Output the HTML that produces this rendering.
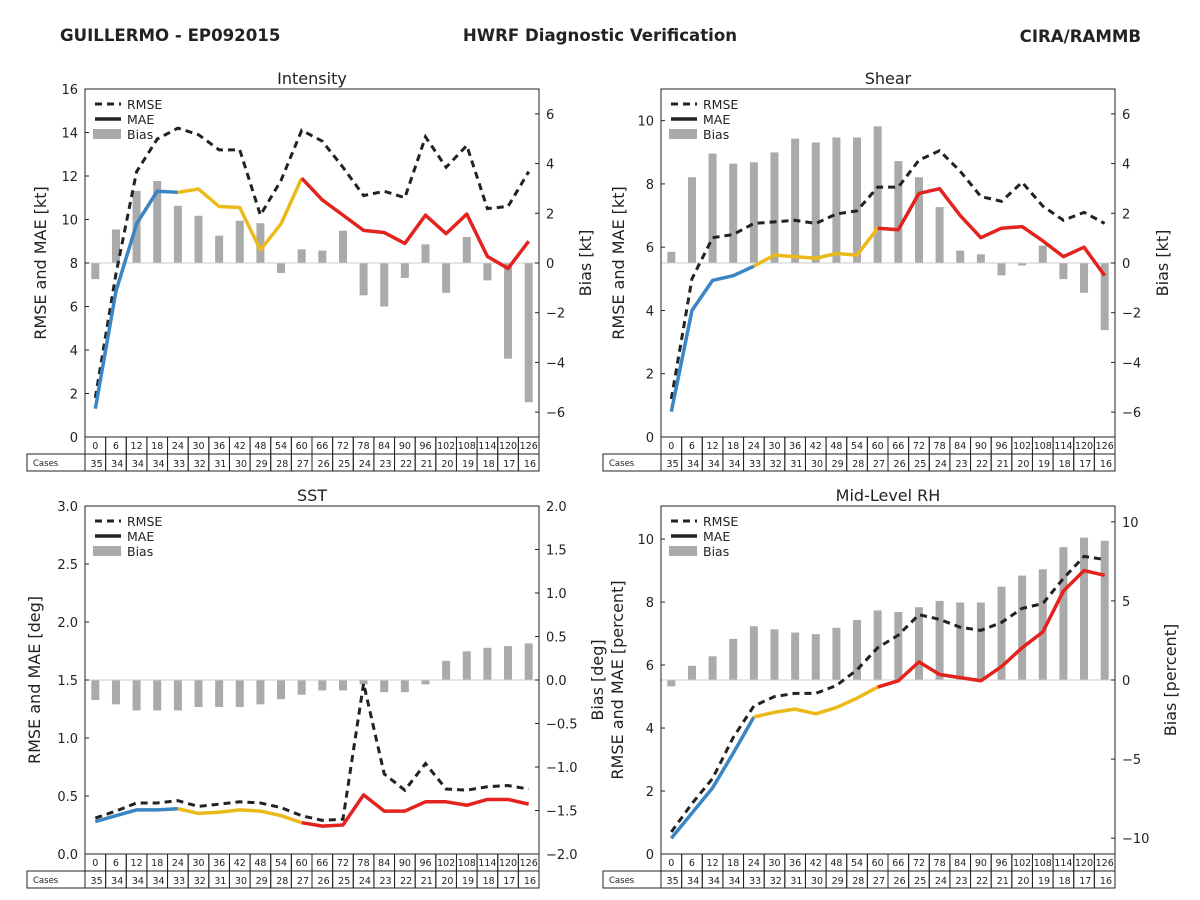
<!DOCTYPE html>
<html><head><meta charset="utf-8">
<style>
body{margin:0;background:#fff;}
svg{display:block;font-family:"DejaVu Sans","Liberation Sans",sans-serif;}
</style></head>
<body>
<svg id="chart" width="1200" height="900" viewBox="0 0 1200 900">
<text x="60" y="41" font-size="16.6" font-weight="bold" fill="#222">GUILLERMO - EP092015</text>
<text x="600" y="41" font-size="16.6" font-weight="bold" fill="#222" text-anchor="middle">HWRF Diagnostic Verification</text>
<text x="1141" y="42" font-size="16.6" font-weight="bold" fill="#222" text-anchor="end">CIRA/RAMMB</text>
</svg>
<script>
const hours=[0,6,12,18,24,30,36,42,48,54,60,66,72,78,84,90,96,102,108,114,120,126];
const cases=[35,34,34,34,33,32,31,30,29,28,27,26,25,24,23,22,21,20,19,18,17,16];
const intRmse=[1.8,7.5,12.2,13.7,14.2,13.9,13.2,13.2,10.2,11.8,14.1,13.6,12.4,11.1,11.3,11.0,13.8,12.4,13.4,10.5,10.6,12.2];
const intMae=[1.3,6.7,9.8,11.3,11.25,11.4,10.6,10.55,8.6,9.8,11.9,10.9,10.2,9.5,9.4,8.9,10.2,9.35,10.25,8.3,7.75,9.0];
const intBias=[-0.65,1.35,2.9,3.3,2.3,1.9,1.1,1.7,1.6,-0.4,0.55,0.5,1.3,-1.3,-1.75,-0.6,0.75,-1.2,1.05,-0.7,-3.85,-5.6];
const shRmse=[1.2,5.0,6.3,6.4,6.75,6.8,6.85,6.75,7.05,7.15,7.9,7.9,8.75,9.05,8.4,7.6,7.45,8.05,7.3,6.85,7.1,6.75];
const shMae=[0.8,4.0,4.95,5.1,5.4,5.75,5.7,5.65,5.8,5.75,6.6,6.55,7.7,7.85,7.0,6.3,6.6,6.65,6.2,5.7,6.0,5.1];
const shBias=[0.45,3.45,4.4,4.0,4.05,4.45,5.0,4.85,5.05,5.05,5.5,4.1,3.45,2.25,0.5,0.35,-0.5,-0.1,0.7,-0.65,-1.2,-2.7];
const sstRmse=[0.31,0.37,0.44,0.44,0.46,0.41,0.43,0.45,0.44,0.40,0.33,0.29,0.30,1.47,0.69,0.55,0.78,0.56,0.55,0.58,0.59,0.56];
const sstMae=[0.28,0.33,0.38,0.38,0.39,0.35,0.36,0.38,0.37,0.33,0.27,0.24,0.25,0.51,0.37,0.37,0.45,0.45,0.42,0.47,0.47,0.43];
const sstBias=[-0.23,-0.28,-0.35,-0.35,-0.35,-0.31,-0.31,-0.31,-0.28,-0.22,-0.17,-0.12,-0.12,-0.05,-0.14,-0.14,-0.05,0.22,0.33,0.37,0.39,0.42];
const rhRmse=[0.7,1.6,2.4,3.7,4.7,5.0,5.1,5.1,5.35,5.85,6.55,6.95,7.6,7.45,7.2,7.1,7.35,7.8,7.95,8.75,9.45,9.35];
const rhMae=[0.5,1.3,2.1,3.2,4.35,4.5,4.6,4.45,4.65,4.95,5.3,5.5,6.1,5.7,5.6,5.5,5.95,6.55,7.05,8.35,9.0,8.85];
const rhBias=[-0.4,0.9,1.5,2.6,3.4,3.2,3.0,2.9,3.3,3.8,4.4,4.3,4.6,5.0,4.9,4.9,5.9,6.6,7.0,8.4,9.0,8.8];
const leftTicksInt=[0,2,4,6,8,10,12,14,16];
const leftTicks10=[0,2,4,6,8,10];
const leftTicksSst=[0,0.5,1.0,1.5,2.0,2.5,3.0];
const rightTicks6=[-6,-4,-2,0,2,4,6];
const rightTicksSst=[-2,-1.5,-1,-0.5,0,0.5,1,1.5,2];
const rightTicksRh=[-10,-5,0,5,10];

const svg=document.getElementById('chart');
const NS='http://www.w3.org/2000/svg';
function mk(tag,attrs,parent,txt){const e=document.createElementNS(NS,tag);for(const k in attrs)e.setAttribute(k,attrs[k]);if(txt!==undefined)e.textContent=txt;(parent||svg).appendChild(e);return e;}
function fmtNeg(s){return String(s).replace('-','\u2212');}

function panel(p){
  const g=mk('g',{});
  
  
  const x0=p.x,x1=p.x+454,y0=p.y,y1=p.y+348;
  const n=hours.length,step=(x1-x0)/n;
  const xs=i=>x0+step*(i+0.5);
  const yl=v=>y1-(v-p.lmin)/(p.lmax-p.lmin)*(y1-y0);
  const yr=v=>y1-(v-p.rmin)/(p.rmax-p.rmin)*(y1-y0);
  p.bias.forEach((v,i)=>{
    const a=yr(0),b=yr(v);
    const r=mk('rect',{x:xs(i)-4,y:Math.min(a,b),width:8,height:Math.abs(a-b),fill:'#aaaaaa'},g);
    
    
  });
  mk('line',{x1:x0,x2:x1,y1:yr(0),y2:yr(0),stroke:'#ccc','stroke-width':1},g);
  const rp=mk('polyline',{points:p.rmse.map((v,i)=>xs(i)+','+yl(v)).join(' '),fill:'none',stroke:'#222','stroke-width':3,'stroke-dasharray':'7,5'},g);
  
  
  const segs=[[0,4,'#3a85c3'],[4,10,'#ebba1a'],[10,21,'#e2231f']];
  segs.forEach(s=>{
    const pts=[];for(let i=s[0];i<=s[1];i++)pts.push(xs(i)+','+yl(p.mae[i]));
    const l=mk('polyline',{points:pts.join(' '),fill:'none',stroke:s[2],'stroke-width':3.5,'stroke-linejoin':'round'},g);
    
    
  });
  mk('rect',{x:x0,y:y0,width:454,height:348,fill:'none',stroke:'#222','stroke-width':1},g);
  p.lt.forEach(v=>{
    const y=yl(v);
    mk('line',{x1:x0,x2:x0+4,y1:y,y2:y,stroke:'#222'},g);
    const t=mk('text',{x:x0-7,y:y+5,'font-size':13,'text-anchor':'end',fill:'#222'},g,p.lfmt?p.lfmt(v):String(v));
    
    
  });
  p.rt.forEach(v=>{
    const y=yr(v);
    mk('line',{x1:x1-4,x2:x1,y1:y,y2:y,stroke:'#222'},g);
    const t=mk('text',{x:x1+7,y:y+5,'font-size':13,fill:'#222'},g,fmtNeg(p.rfmt?p.rfmt(v):String(v)));
    
    
  });
  const tt=mk('text',{x:(x0+x1)/2,y:y0-5,'font-size':16,'text-anchor':'middle',fill:'#222'},g,p.title);
  
  
  const ll=mk('text',{x:0,y:0,'font-size':16,'text-anchor':'middle',fill:'#222',transform:`translate(${p.llx},${(y0+y1)/2}) rotate(-90)`},g,p.ylabel);
  
  
  if(p.rlabel){
    const rl=mk('text',{x:0,y:0,'font-size':16,'text-anchor':'middle',fill:'#222',transform:`translate(${p.rlx},${(y0+y1)/2}) rotate(-90)`},g,p.rlabel);
    
    
  }
  const lg=mk('g',{},g);
  
  
  mk('line',{x1:x0+10,x2:x0+36,y1:y0+15,y2:y0+15,stroke:'#222','stroke-width':3,'stroke-dasharray':'7,5'},lg);
  mk('text',{x:x0+42,y:y0+20,'font-size':12.5,fill:'#222'},lg,'RMSE');
  mk('line',{x1:x0+10,x2:x0+36,y1:y0+30,y2:y0+30,stroke:'#222','stroke-width':3.5},lg);
  mk('text',{x:x0+42,y:y0+35,'font-size':12.5,fill:'#222'},lg,'MAE');
  mk('rect',{x:x0+8,y:y0+40,width:28,height:10,fill:'#aaaaaa'},lg);
  mk('text',{x:x0+42,y:y0+50,'font-size':12.5,fill:'#222'},lg,'Bias');
  const tb=mk('g',{},g);
  
  
  mk('rect',{x:x0-58,y:y1+17,width:58,height:17,fill:'none',stroke:'#222'},tb);
  mk('text',{x:x0-52,y:y1+29,'font-size':8.5,fill:'#222'},tb,'Cases');
  hours.forEach((h,i)=>{
    const cx=x0+step*i;
    mk('rect',{x:cx,y:y1,width:step,height:17,fill:'none',stroke:'#222'},tb);
    mk('rect',{x:cx,y:y1+17,width:step,height:17,fill:'none',stroke:'#222'},tb);
    mk('text',{x:cx+step/2,y:y1+12,'font-size':9.5,'text-anchor':'middle',fill:'#222'},tb,String(h));
    mk('text',{x:cx+step-3,y:y1+30,'font-size':9.5,'text-anchor':'end',fill:'#222'},tb,String(cases[i]));
  });
}
panel({name:'intensity',title:'Intensity',x:85,y:89,lmin:0,lmax:16,rmin:-7,rmax:7,lt:leftTicksInt,rt:rightTicks6,rmse:intRmse,mae:intMae,bias:intBias,ylabel:'RMSE and MAE [kt]',llx:46,rlabel:'Bias [kt]',rlx:591});
panel({name:'shear',title:'Shear',x:661,y:89,lmin:0,lmax:11,rmin:-7,rmax:7,lt:leftTicks10,rt:rightTicks6,rmse:shRmse,mae:shMae,bias:shBias,ylabel:'RMSE and MAE [kt]',llx:624,rlabel:'Bias [kt]',rlx:1168});
panel({name:'sst',title:'SST',x:85,y:506,lmin:0,lmax:3,rmin:-2,rmax:2,lt:leftTicksSst,rt:rightTicksSst,lfmt:v=>v.toFixed(1),rfmt:v=>v.toFixed(1),rmse:sstRmse,mae:sstMae,bias:sstBias,ylabel:'RMSE and MAE [deg]',llx:40,rlabel:'Bias [deg]',rlx:603});
panel({name:'mid-level-rh',title:'Mid-Level RH',x:661,y:506,lmin:0,lmax:11.05,rmin:-11,rmax:11,lt:leftTicks10,rt:rightTicksRh,rmse:rhRmse,mae:rhMae,bias:rhBias,ylabel:'RMSE and MAE [percent]',llx:623,rlabel:'Bias [percent]',rlx:1176});
</script>
</body></html>
